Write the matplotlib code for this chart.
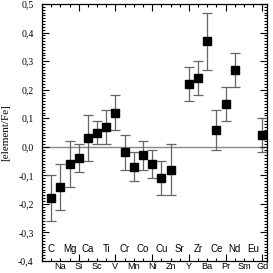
import matplotlib
matplotlib.use("Agg")
import matplotlib.pyplot as plt
from matplotlib.ticker import MultipleLocator, FuncFormatter
import matplotlib.transforms as mtransforms

elements = ['C', 'Na', 'Mg', 'Si', 'Ca', 'Sc', 'Ti', 'V', 'Cr', 'Mn', 'Co', 'Ni',
            'Cu', 'Zn', 'Sr', 'Y', 'Zr', 'Ba', 'Ce', 'Pr', 'Nd', 'Sm', 'Eu', 'Gd']
# None = no measurement
abund = [-0.18, -0.14, -0.06, -0.04, 0.03, 0.05, 0.07, 0.12, -0.02, -0.07, -0.03, -0.06,
         -0.11, -0.08, None, 0.22, 0.24, 0.37, 0.06, 0.15, 0.27, None, None, 0.04]
errs = [0.08, 0.08, 0.08, 0.05, 0.08, 0.04, 0.06, 0.06, 0.06, 0.05, 0.05, 0.05,
        0.06, 0.09, None, 0.06, 0.06, 0.10, 0.07, 0.06, 0.06, None, None, 0.06]

xs = [i + 1 for i, a in enumerate(abund) if a is not None]
ys = [a for a in abund if a is not None]
es = [e for a, e in zip(abund, errs) if a is not None]

fig = plt.figure(figsize=(2.73, 2.73), dpi=100)
ax = fig.add_axes([42 / 273, 12 / 273, 225 / 273, 257 / 273])

ax.axhline(0, color='#888888', lw=1.0, zorder=1)
ax.errorbar(xs, ys, yerr=es, fmt='none', ecolor='#666666', elinewidth=0.9,
            capsize=3.5, capthick=0.9, zorder=2)
ax.plot(xs, ys, 's', color='black', ms=6.2, zorder=3)

ax.set_xlim(0, 24.5)
ax.set_ylim(-0.4, 0.5)
ax.xaxis.set_major_locator(MultipleLocator(4))
ax.xaxis.set_minor_locator(MultipleLocator(1))
ax.yaxis.set_major_locator(MultipleLocator(0.1))
ax.yaxis.set_minor_locator(MultipleLocator(0.01))
ax.xaxis.set_major_formatter(FuncFormatter(lambda v, p: ''))
ax.yaxis.set_major_formatter(FuncFormatter(lambda v, p: ('%.1f' % v).replace('.', ',').replace('-0,0', '0,0')))
ax.tick_params(which='both', direction='in', top=True, right=True, width=0.8)
ax.tick_params(which='major', length=5)
ax.tick_params(which='minor', length=2.5)
ax.tick_params(axis='y', labelsize=7, pad=6)
for lab in ax.get_yticklabels():
    lab.set_family('Liberation Serif')
for sp in ax.spines.values():
    sp.set_linewidth(0.9)

trans = mtransforms.blended_transform_factory(ax.transData, ax.transAxes)
for i, el in enumerate(elements):
    if i % 2 == 0:
        ax.text(i + 1, 0.045, el, transform=trans, ha='center', va='center',
                fontsize=7, family='Liberation Sans')
    else:
        ax.text(i + 1, -0.004, el, transform=trans, ha='center', va='top',
                fontsize=6.6, family='Liberation Sans')

ax.set_ylabel('[element/Fe]', family='Liberation Serif', fontsize=8, labelpad=6)

fig.savefig('out.png', dpi=100)
